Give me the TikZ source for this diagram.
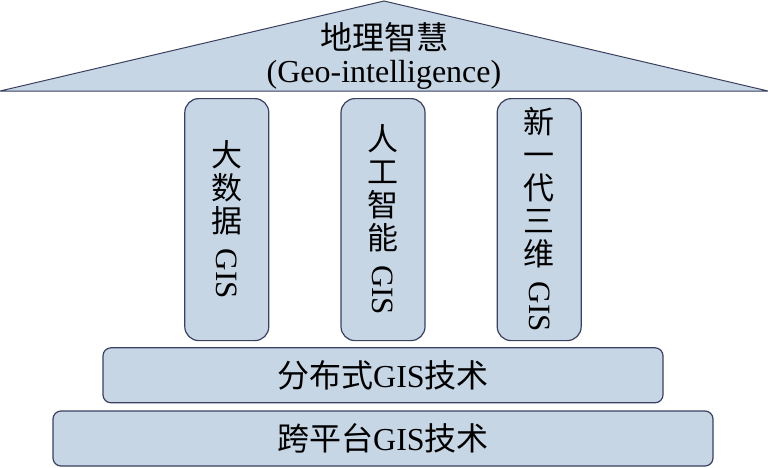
\documentclass[tikz,border=0pt]{standalone}
\usepackage{fontspec}
\usepackage{graphicx}
\setmainfont{Liberation Serif}
\newfontfamily\cjk{Noto Sans CJK SC}
\usetikzlibrary{positioning}
\definecolor{slab}{HTML}{C6D6E5}
\definecolor{rim}{HTML}{3B4060}
\newcommand\vgis{\raisebox{17pt}{\rotatebox{-90}{GIS}}}

\begin{document}
\begin{tikzpicture}[x=1pt,y=-1pt,node distance=7pt]
  \tikzset{block/.style={draw=rim, fill=slab, line width=1.2pt, rounded corners=8pt,
                         inner sep=0pt, font=\fontsize{32}{35}\selectfont},
           pillar/.style={block, rounded corners=14pt, minimum width=84pt,
                          minimum height=242pt, align=center, font=\fontsize{31}{33}\selectfont}}
  \useasboundingbox (0,0) rectangle (768,467);

  \node[block,minimum width=660pt,minimum height=55pt] (b_0) at (383,438.5) {{\cjk 跨平台}GIS{\cjk 技术}};
  \node[block,minimum width=560pt,minimum height=55pt] (b_1) [above       = of b_0] {{\cjk 分布式}GIS{\cjk 技术}};
  \node[pillar] (p_1) [above = 6pt of b_1] {\cjk 人\\\cjk 工\\\cjk 智\\\cjk 能\\\vgis};
  \node[pillar] (p_0) [left  = 71pt of p_1] {\cjk 大\\\cjk 数\\\cjk 据\\\vgis};
  \node[pillar] (p_2) [right = 71pt of p_1] {\cjk 新\\\cjk 一\\\cjk 代\\\cjk 三\\\cjk 维\\\vgis};

  % roof on top of the pillars
  \coordinate (r_l) at (0,91);
  \coordinate (r_t) at (384,1);
  \coordinate (r_r) at (768,91);
  \draw[draw=rim, fill=slab, line width=1pt, line join=miter] (r_l) -- (r_t) -- (r_r) -- cycle;
  \node[align=center, inner sep=0pt, font=\fontsize{32}{33}\selectfont] (r_0) at (384,56) {{\cjk 地理智慧}\\(Geo-intelligence)};
\end{tikzpicture}
\end{document}
